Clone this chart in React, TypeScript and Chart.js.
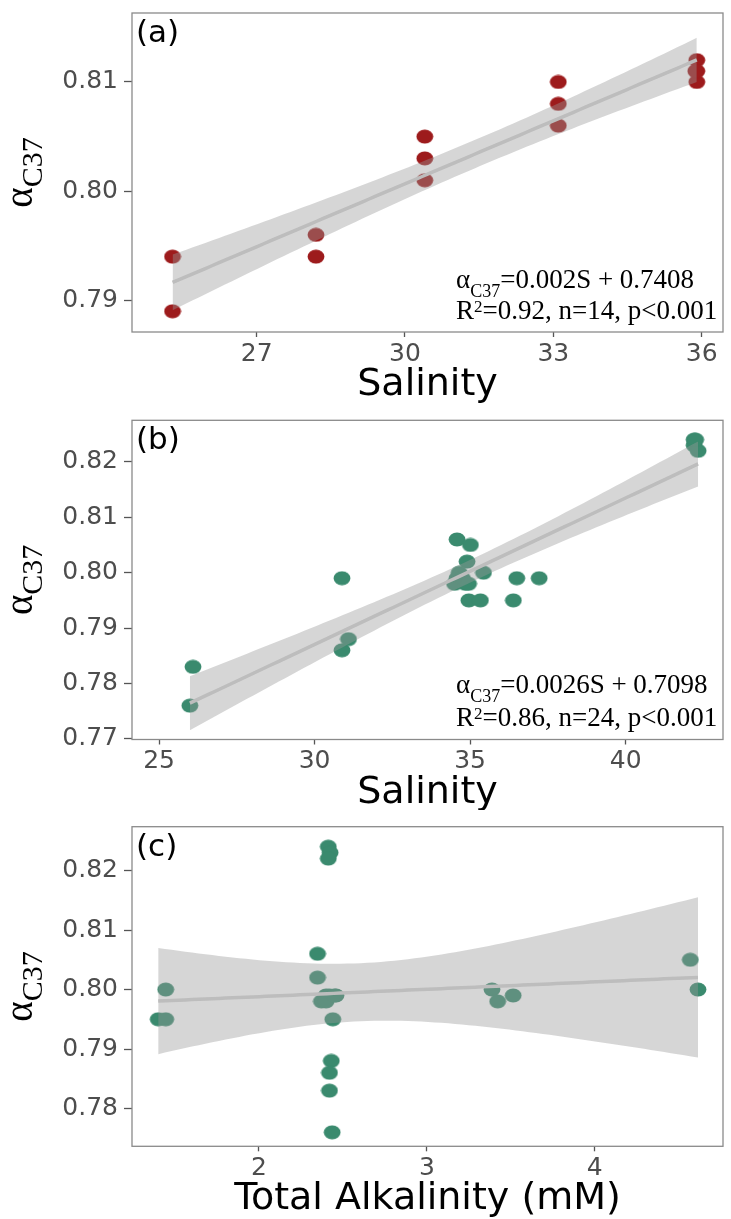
import React, { useEffect, useRef } from "react";
import { Chart, registerables } from "chart.js";

Chart.register(...registerables);

// ---------- data ----------
const A_SALINITY = [25.3, 25.3, 28.2, 28.2, 30.4, 30.4, 30.4, 33.1, 33.1, 33.1, 35.9, 35.88, 35.9, 35.9];
const A_ALPHA = [0.794, 0.789, 0.796, 0.794, 0.805, 0.803, 0.801, 0.81, 0.808, 0.806, 0.812, 0.811, 0.81, 0.811];

const B_SALINITY = [25.99, 26.09, 30.88, 30.88, 31.09, 34.58, 35.01, 34.9, 35.43, 34.58, 34.85, 34.65, 34.5, 36.5, 37.22, 34.96, 35.33, 36.39, 42.2, 42.2, 42.33, 34.75, 34.95, 42.25];
const B_ALPHA = [0.776, 0.783, 0.799, 0.786, 0.788, 0.806, 0.805, 0.802, 0.8, 0.799, 0.798, 0.8, 0.798, 0.799, 0.799, 0.795, 0.795, 0.795, 0.824, 0.823, 0.822, 0.799, 0.798, 0.824];

const C_ALKALINITY = [1.445, 1.4, 1.445, 2.413, 2.424, 2.413, 2.349, 2.349, 2.372, 2.4, 2.459, 2.44, 2.431, 2.42, 2.42, 2.436, 3.388, 3.422, 3.514, 4.569, 4.615, 2.42, 2.4, 2.45];
const C_ALPHA = [0.8, 0.795, 0.795, 0.824, 0.823, 0.822, 0.806, 0.802, 0.798, 0.799, 0.799, 0.795, 0.788, 0.786, 0.783, 0.776, 0.8, 0.798, 0.799, 0.805, 0.8, 0.799, 0.798, 0.799];

const A_X_TICKS = [27, 30, 33, 36];
const A_Y_TICKS = [0.79, 0.8, 0.81];
const B_X_TICKS = [25, 30, 35, 40];
const B_Y_TICKS = [0.77, 0.78, 0.79, 0.8, 0.81, 0.82];
const C_X_TICKS = [2, 3, 4];
const C_Y_TICKS = [0.78, 0.79, 0.8, 0.81, 0.82];

// Student t quantiles (0.975) for n-2 degrees of freedom
const T_CRIT_A = 2.179;
const T_CRIT_B = 2.074;
const T_CRIT_C = 2.074;

const RED = "#9d1b1c";
const GREEN = "#3a8a6e";

// ---------- linear fit with 95% confidence band (like geom_smooth(method = "lm")) ----------
function fitBand(xs: number[], ys: number[], t: number, steps = 80) {
  const n = xs.length;
  const mx = xs.reduce((a, b) => a + b, 0) / n;
  const my = ys.reduce((a, b) => a + b, 0) / n;
  let sxx = 0;
  let sxy = 0;
  for (let i = 0; i < n; i++) {
    sxx += (xs[i] - mx) ** 2;
    sxy += (xs[i] - mx) * (ys[i] - my);
  }
  const b = sxy / sxx;
  const a = my - b * mx;
  let sse = 0;
  for (let i = 0; i < n; i++) sse += (ys[i] - a - b * xs[i]) ** 2;
  const s = Math.sqrt(sse / (n - 2));
  const lo = Math.min(...xs);
  const hi = Math.max(...xs);
  const line: { x: number; y: number }[] = [];
  const upper: { x: number; y: number }[] = [];
  const lower: { x: number; y: number }[] = [];
  for (let k = 0; k <= steps; k++) {
    const x = lo + ((hi - lo) * k) / steps;
    const yh = a + b * x;
    const se = s * Math.sqrt(1 / n + (x - mx) ** 2 / sxx);
    line.push({ x, y: yh });
    upper.push({ x, y: yh + t * se });
    lower.push({ x, y: yh - t * se });
  }
  return { line, upper, lower };
}

// slightly wide marker, as in the (horizontally stretched) reference figure
function makeMarker(color: string) {
  const c = document.createElement("canvas");
  c.width = 18;
  c.height = 15;
  const g = c.getContext("2d")!;
  g.fillStyle = color;
  g.beginPath();
  g.ellipse(9, 7.5, 8.4, 7.1, 0, 0, Math.PI * 2);
  g.fill();
  return c;
}

type PanelCfg = {
  label: string;
  xs: number[];
  ys: number[];
  t: number;
  color: string;
  xTicks: number[];
  yTicks: number[];
  xMin: number;
  xMax: number;
  yMin: number;
  yMax: number;
  xTitle: string;
  canvasTop: number;
  canvasHeight: number;
  plotTop: number;
  plotBottom: number;
  eq?: { line1: string; line2a: string; line2b: string; off1: number; off2: number };
};

const PLOT_LEFT = 132;
const WIDTH = 731;

function panelPlugin(cfg: PanelCfg) {
  return {
    id: "panelDecor" + cfg.label.replace(/\W/g, ""),
    afterDraw(chart: any) {
      const { ctx, chartArea: ca } = chart;
      ctx.save();
      // panel border
      ctx.strokeStyle = "#8a8a8a";
      ctx.lineWidth = 1.3;
      ctx.strokeRect(ca.left, ca.top, ca.right - ca.left, ca.bottom - ca.top);

      // panel tag
      ctx.fillStyle = "#000";
      ctx.textAlign = "left";
      ctx.textBaseline = "alphabetic";
      ctx.font = '31px "DejaVu Sans"';
      ctx.fillText(cfg.label, ca.left + 4, ca.top + 29);

      // x title
      ctx.textAlign = "center";
      ctx.font = '38px "DejaVu Sans"';
      ctx.fillText(cfg.xTitle, (ca.left + ca.right) / 2, ca.bottom + 63);

      // y title: alpha with subscript C37, rotated
      ctx.save();
      ctx.translate(31.7, (ca.top + ca.bottom) / 2);
      ctx.rotate(-Math.PI / 2);
      ctx.textAlign = "left";
      ctx.font = '39px "Liberation Serif"';
      const wA = ctx.measureText("α").width;
      ctx.font = '30px "Liberation Serif"';
      const wC = ctx.measureText("C37").width;
      const start = -(wA + wC) / 2;
      ctx.font = '39px "Liberation Serif"';
      ctx.fillText("α", start, 0);
      ctx.font = '30px "Liberation Serif"';
      ctx.fillText("C37", start + wA, 10);
      ctx.restore();

      // regression equation
      if (cfg.eq) {
        const x0 = 456;
        const b1 = ca.bottom + cfg.eq.off1;
        const b2 = ca.bottom + cfg.eq.off2;
        ctx.textAlign = "left";
        ctx.font = '27px "Liberation Serif"';
        let x = x0;
        ctx.fillText("α", x, b1);
        x += ctx.measureText("α").width;
        ctx.font = '18px "Liberation Serif"';
        ctx.fillText("C37", x, b1 + 9);
        x += ctx.measureText("C37").width;
        ctx.font = '27px "Liberation Serif"';
        ctx.fillText(cfg.eq.line1, x, b1);

        x = x0;
        ctx.fillText(cfg.eq.line2a, x, b2);
        x += ctx.measureText(cfg.eq.line2a).width;
        ctx.font = '17px "Liberation Serif"';
        ctx.fillText("2", x, b2 - 7);
        x += ctx.measureText("2").width;
        ctx.font = '27px "Liberation Serif"';
        ctx.fillText(cfg.eq.line2b, x, b2);
      }
      ctx.restore();
    },
  };
}

function Panel({ cfg }: { cfg: PanelCfg }) {
  const ref = useRef<HTMLCanvasElement | null>(null);
  useEffect(() => {
    if (!ref.current) return;
    const fit = fitBand(cfg.xs, cfg.ys, cfg.t);
    const pts = cfg.xs.map((x, i) => ({ x, y: cfg.ys[i] }));
    const xAxisHeight = cfg.canvasHeight - cfg.plotBottom;
    const tickFont = { family: "DejaVu Sans", size: 25 };
    const marker = makeMarker(cfg.color);
    const chart = new Chart(ref.current, {
      type: "scatter",
      data: {
        datasets: [
          {
            type: "scatter",
            data: pts,
            pointStyle: marker,
            backgroundColor: cfg.color,
            borderWidth: 0,
            pointRadius: 8,
            pointHoverRadius: 8,
            order: 3,
          } as any,
          {
            type: "line",
            data: fit.upper,
            showLine: true,
            borderWidth: 0,
            borderColor: "rgba(0,0,0,0)",
            pointRadius: 0,
            fill: false,
            order: 2,
          } as any,
          {
            type: "line",
            data: fit.lower,
            showLine: true,
            borderWidth: 0,
            borderColor: "rgba(0,0,0,0)",
            pointRadius: 0,
            fill: "-1",
            backgroundColor: "rgba(153,153,153,0.4)",
            order: 2,
          } as any,
          {
            type: "line",
            data: fit.line,
            showLine: true,
            borderWidth: 3.5,
            borderColor: "#bdbdbd",
            pointRadius: 0,
            fill: false,
            order: 1,
          } as any,
        ],
      },
      options: {
        responsive: false,
        animation: false,
        events: [],
        layout: { padding: { top: cfg.plotTop, right: WIDTH - 730, left: 0, bottom: 0 } },
        plugins: { legend: { display: false }, tooltip: { enabled: false } },
        scales: {
          x: {
            type: "linear",
            min: cfg.xMin,
            max: cfg.xMax,
            afterBuildTicks: (s: any) => {
              s.ticks = cfg.xTicks.map((v) => ({ value: v }));
            },
            afterFit: (s: any) => {
              s.height = xAxisHeight;
              s.paddingLeft = 0;
              s.paddingRight = 0;
            },
            grid: { drawOnChartArea: false, drawTicks: true, tickLength: 5, tickColor: "#555", tickWidth: 1.3 },
            border: { display: false },
            ticks: {
              font: tickFont,
              color: "#4d4d4d",
              padding: 2,
              maxRotation: 0,
              autoSkip: false,
              callback: (v: any) => String(v),
            },
          },
          y: {
            type: "linear",
            min: cfg.yMin,
            max: cfg.yMax,
            afterBuildTicks: (s: any) => {
              s.ticks = cfg.yTicks.map((v) => ({ value: v }));
            },
            afterFit: (s: any) => {
              s.width = PLOT_LEFT;
              s.paddingTop = 0;
              s.paddingBottom = 0;
            },
            grid: { drawOnChartArea: false, drawTicks: true, tickLength: 8, tickColor: "#555", tickWidth: 1.3 },
            border: { display: false },
            ticks: {
              font: tickFont,
              color: "#4d4d4d",
              padding: 6,
              autoSkip: false,
              callback: (v: any) => Number(v).toFixed(2),
            },
          },
        },
      },
      plugins: [panelPlugin(cfg)],
    } as any);
    return () => chart.destroy();
  }, [cfg]);
  return (
    <canvas
      ref={ref}
      width={WIDTH}
      height={cfg.canvasHeight}
      style={{ position: "absolute", left: 0, top: cfg.canvasTop, width: WIDTH, height: cfg.canvasHeight }}
    />
  );
}

const PANELS: PanelCfg[] = [
  {
    label: "(a)",
    xs: A_SALINITY,
    ys: A_ALPHA,
    t: T_CRIT_A,
    color: RED,
    xTicks: A_X_TICKS,
    yTicks: A_Y_TICKS,
    xMin: 24.48,
    xMax: 36.43,
    yMin: 0.7871,
    yMax: 0.81632,
    xTitle: "Salinity",
    canvasTop: 0,
    canvasHeight: 405,
    plotTop: 13,
    plotBottom: 332,
    eq: { line1: "=0.002S + 0.7408", line2a: "R", line2b: "=0.92, n=14, p<0.001", off1: -44, off2: -13 },
  },
  {
    label: "(b)",
    xs: B_SALINITY,
    ys: B_ALPHA,
    t: T_CRIT_B,
    color: GREEN,
    xTicks: B_X_TICKS,
    yTicks: B_Y_TICKS,
    xMin: 24.13,
    xMax: 43.13,
    yMin: 0.76989,
    yMax: 0.82751,
    xTitle: "Salinity",
    canvasTop: 405,
    canvasHeight: 405,
    plotTop: 15.3,
    plotBottom: 334.5,
    eq: { line1: "=0.0026S + 0.7098", line2a: "R", line2b: "=0.86, n=24, p<0.001", off1: -47, off2: -14 },
  },
  {
    label: "(c)",
    xs: C_ALKALINITY,
    ys: C_ALPHA,
    t: T_CRIT_C,
    color: GREEN,
    xTicks: C_X_TICKS,
    yTicks: C_Y_TICKS,
    xMin: 1.244,
    xMax: 4.764,
    yMin: 0.77365,
    yMax: 0.82736,
    xTitle: "Total Alkalinity (mM)",
    canvasTop: 810,
    canvasHeight: 409,
    plotTop: 16.7,
    plotBottom: 336.3,
  },
];

export default function App() {
  return (
    <div style={{ position: "absolute", left: 0, top: 0, width: WIDTH, height: 1219, background: "#fff", overflow: "hidden" }}>
      {PANELS.map((p) => (
        <Panel key={p.label} cfg={p} />
      ))}
    </div>
  );
}
